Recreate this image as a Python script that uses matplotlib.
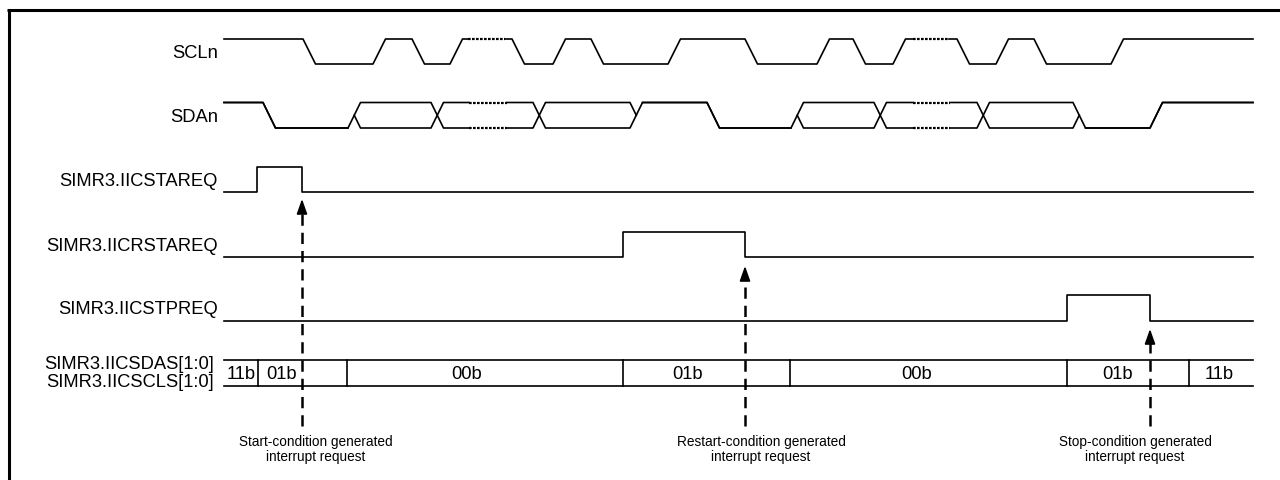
import numpy as np
import matplotlib.pyplot as plt

plt.rcParams['font.family'] = ['Liberation Sans', 'DejaVu Sans']

# time axis in drawing units (0..1280), t_end of every trace
t_start = 224
t_end = 1253
edge = 12.5  # rise/fall time of SCL/SDA

# SCLn: initial level then toggling edge start times
scl_init = 'H'
scl_edges = [303, 373, 412, 450, 512, 553, 591, 668, 745, 817, 853, 893, 957, 996, 1034, 1111]
scl_dots = [(468, 505), (913, 949)]

# SDAn: (edge start time, new state) ; D = data (both levels)
sda_init = 'H'
sda_edges = [(263, 'L'), (348, 'D'), (431, 'D'), (533, 'D'), (630, 'H'), (707, 'L'),
             (791, 'D'), (874, 'D'), (977, 'D'), (1073, 'L'), (1150, 'H')]
sda_dots = [(469, 507), (913, 950)]

# request flags: (rise time, fall time)
req_names = ['SIMR3.IICSTAREQ', 'SIMR3.IICRSTAREQ', 'SIMR3.IICSTPREQ']
req_pulses = [(257, 302), (623, 745), (1067, 1150)]

# SIMR3.IICSDAS / IICSCLS bus cells
bus_bounds = [224, 258, 347, 623, 790, 1067, 1189, 1253]
bus_values = ['11b', '01b', '00b', '01b', '00b', '01b', '11b']
bus_text_x = [241, 282, 467, 688, 917, 1118, 1219]

# interrupt request arrows
irq_x = [302, 745, 1150]
irq_labels = ['Start-condition generated\ninterrupt request',
              'Restart-condition generated\ninterrupt request',
              'Stop-condition generated\ninterrupt request']
irq_text_x = [316, 761, 1135]

# vertical layout (hi, lo) per row
scl_y = (40, 65)
sda_y = (103.5, 129)
req_y = [(168, 193), (233, 258), (296, 322)]
bus_y = (361, 387)

fig = plt.figure(figsize=(12.8, 4.81), dpi=100)
ax = fig.add_axes([0, 0, 1, 1])
ax.set_xlim(0, 1280)
ax.set_ylim(481, 0)
ax.axis('off')

lw = 1.2
col = 'black'
fs = 13.2


def split_dots(xs, ys, dots):
    # cut horizontal segments where a dotted part is drawn
    xs, ys = list(xs), list(ys)
    for g0, g1 in dots:
        for i in range(len(xs) - 1):
            if xs[i] <= g0 and xs[i + 1] >= g1 and ys[i] == ys[i + 1]:
                y = ys[i]
                xs[i + 1:i + 1] = [g0, np.nan, g1]
                ys[i + 1:i + 1] = [y, np.nan, y]
                ax.plot([g0, g1], [y, y], color=col, lw=1.6, ls=(0, (1.2, 0.6)),
                        solid_capstyle='butt')
                break
    return xs, ys


# SCLn
hi, lo = scl_y
lvl = hi if scl_init == 'H' else lo
xs, ys = [t_start], [lvl]
for t in scl_edges:
    new = lo if lvl == hi else hi
    xs += [t, t + edge]
    ys += [lvl, new]
    lvl = new
xs.append(t_end)
ys.append(lvl)
xs, ys = split_dots(xs, ys, scl_dots)
ax.plot(xs, ys, color=col, lw=lw)

# SDAn as two traces a / b
hi, lo = sda_y
mid = (hi + lo) / 2
a = b = hi if sda_init == 'H' else lo
ax_, ay_ = [t_start], [a]
bx_, by_ = [t_start], [b]
state = sda_init
for t, s in sda_edges:
    if s == 'D' and state == 'D':
        ax_ += [t, t + edge]; ay_ += [a, b]
        bx_ += [t, t + edge]; by_ += [b, a]
        a, b = b, a
    elif s == 'D':
        other = lo if a == hi else hi
        ax_ += [t, t + edge]; ay_ += [a, other]
        bx_ += [t, np.nan, t + edge / 2, t + edge]; by_ += [b, np.nan, mid, b]
        a = other
    elif state == 'D':
        y1 = hi if s == 'H' else lo
        if a == y1:
            a, b = b, a
            ax_, bx_ = bx_, ax_
            ay_, by_ = by_, ay_
        ax_ += [t, t + edge]; ay_ += [a, y1]
        bx_ += [t, t + edge / 2, np.nan, t + edge]; by_ += [b, mid, np.nan, y1]
        a = b = y1
    else:
        y1 = hi if s == 'H' else lo
        ax_ += [t, t + edge]; ay_ += [a, y1]
        bx_ += [t, t + edge]; by_ += [b, y1]
        a = b = y1
    state = s
ax_.append(t_end); ay_.append(a)
bx_.append(t_end); by_.append(b)
for xs, ys in [(ax_, ay_), (bx_, by_)]:
    xs, ys = split_dots(xs, ys, sda_dots)
    ax.plot(xs, ys, color=col, lw=lw)

# request flags
for (hi, lo), (r, f) in zip(req_y, req_pulses):
    ax.plot([t_start, r, r, f, f, t_end], [lo, lo, hi, hi, lo, lo], color=col, lw=lw)

# bus
y0, y1 = bus_y
ax.plot([bus_bounds[0], bus_bounds[-1]], [y0, y0], color=col, lw=lw)
ax.plot([bus_bounds[0], bus_bounds[-1]], [y1, y1], color=col, lw=lw)
for x in bus_bounds[1:-1]:
    ax.plot([x, x], [y0, y1], color=col, lw=lw)
for x, v in zip(bus_text_x, bus_values):
    ax.text(x, (y0 + y1) / 2 + 0.5, v, ha='center', va='center', fontsize=fs)

# signal names
lab_x = 218
ax.text(lab_x, sum(scl_y) / 2 + 1, 'SCLn', ha='right', va='center', fontsize=fs)
ax.text(lab_x, sum(sda_y) / 2 + 1, 'SDAn', ha='right', va='center', fontsize=fs)
for name, (hi, lo) in zip(req_names, req_y):
    ax.text(lab_x, (hi + lo) / 2 + 1, name, ha='right', va='center', fontsize=fs)
ax.text(214, 365, 'SIMR3.IICSDAS[1:0]', ha='right', va='center', fontsize=fs)
ax.text(214, 383, 'SIMR3.IICSCLS[1:0]', ha='right', va='center', fontsize=fs)

# interrupt arrows
tips = [req_y[0][1] + 7, req_y[1][1] + 9, req_y[2][1] + 8]
for x, tip, lab, tx in zip(irq_x, tips, irq_labels, irq_text_x):
    ax.plot([x, x], [427, tip + 10], color=col, lw=1.8, ls=(0, (4.5, 2.8)))
    ax.annotate('', xy=(x, tip), xytext=(x, tip + 12),
                arrowprops=dict(arrowstyle='-|>,head_length=0.9,head_width=0.32',
                                color=col, lw=1.2, shrinkA=0, shrinkB=0))
    ax.text(tx, 435, lab, ha='center', va='top', fontsize=9.8, linespacing=1.05)

# frame
ax.plot([8.5, 8.5], [481, 10.5], color=col, lw=2.2, solid_capstyle='butt')
ax.plot([7, 1280], [10.5, 10.5], color=col, lw=2.2, solid_capstyle='butt')

fig.savefig('out.png', dpi=100)
